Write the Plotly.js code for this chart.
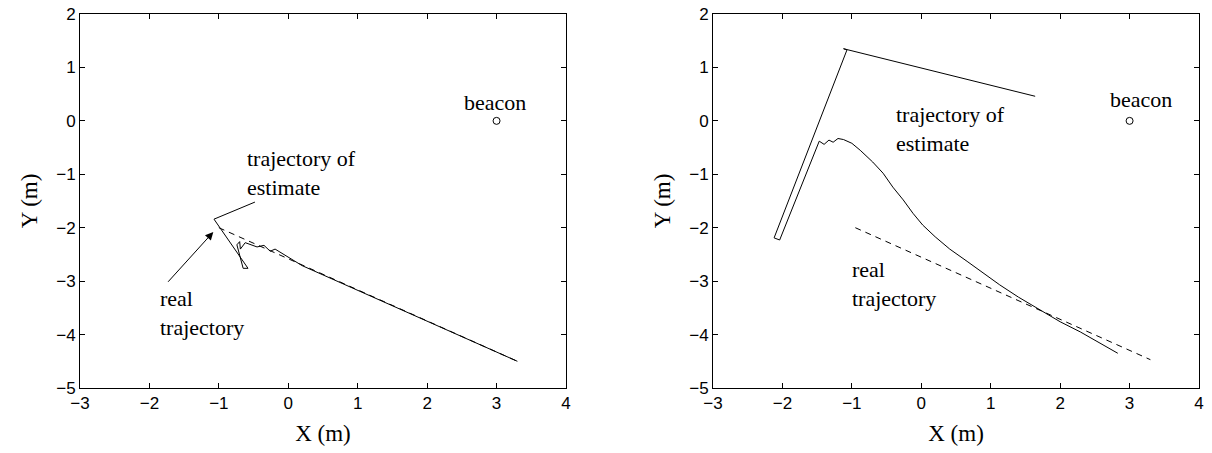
<!DOCTYPE html>
<html lang="en">
<head>
    <meta charset="UTF-8"/>
    <title>Beacon trajectories</title>
    <script src="https://cdn.plot.ly/plotly-3.0.1.min.js"></script>
    <style>
    body { margin: 0; background: white; }
    #chart { width: 1212px; height: 453px; }
    </style>
</head>
<body>
    <div id="chart"></div>
    <script>
        // beacon position (both panels)
        var beaconX = [3];
        var beaconY = [0];

        // left panel
        var realLeftX = [-1.0, 3.3];
        var realLeftY = [-2.0, -4.5];
        var estLeftX = [-0.48, -1.07, -0.58, -0.65, -0.74, -0.70, -0.69, -0.62, -0.45, -0.35, -0.26, -0.19, 0.2, 1.32, 2.3, 3.3];
        var estLeftY = [-1.52, -1.84, -2.76, -2.76, -2.32, -2.26, -2.40, -2.28, -2.36, -2.33, -2.44, -2.40, -2.71, -3.36, -3.93, -4.5];

        // right panel
        var realRightX = [-0.95, 3.3];
        var realRightY = [-2.0, -4.47];
        var estRightX = [1.64, -1.12, -1.07, -2.12, -2.04, -1.47, -1.40, -1.33, -1.27, -1.20, -1.12, -1.0, -0.88, -0.70, -0.55, -0.41, -0.26, -0.12, 0.02, 0.2, 0.41, 0.66, 0.9, 1.13, 1.4, 1.71, 2.0, 2.29, 2.55, 2.83];
        var estRightY = [0.46, 1.35, 1.33, -2.19, -2.23, -0.38, -0.44, -0.36, -0.40, -0.33, -0.35, -0.42, -0.55, -0.77, -0.98, -1.24, -1.48, -1.73, -1.95, -2.17, -2.40, -2.63, -2.85, -3.07, -3.3, -3.54, -3.76, -3.95, -4.15, -4.35];

        var serif = 'Liberation Serif, Times New Roman, serif';
        var black = '#000000';

        function lineTrace(x, y, ax, dash) {
            return {
                x: x, y: y, xaxis: ax[0], yaxis: ax[1],
                type: 'scatter', mode: 'lines',
                line: { color: black, width: 1, dash: dash },
                hoverinfo: 'none'
            };
        }

        function beaconTrace(ax) {
            return {
                x: beaconX, y: beaconY, xaxis: ax[0], yaxis: ax[1],
                type: 'scatter', mode: 'markers',
                marker: { symbol: 'circle-open', size: 7, color: black, line: { width: 1 } },
                hoverinfo: 'none'
            };
        }

        var L = ['x', 'y'];
        var R = ['x2', 'y2'];

        var data = [
            lineTrace(realLeftX, realLeftY, L, '6px,5px'),
            lineTrace(estLeftX, estLeftY, L, 'solid'),
            beaconTrace(L),
            lineTrace(realRightX, realRightY, R, '6px,5px'),
            lineTrace(estRightX, estRightY, R, 'solid'),
            beaconTrace(R)
        ];

        function xAxis(domain, anchor) {
            return {
                domain: domain, anchor: anchor, range: [-3, 4], dtick: 1,
                ticks: 'inside', ticklen: 5, tickcolor: black,
                showline: true, linecolor: black, linewidth: 1, mirror: 'ticks',
                showgrid: false, zeroline: false,
                tickfont: { family: 'Liberation Sans, Arial, sans-serif', size: 17, color: black },
                title: { text: 'X (m)', font: { family: serif, size: 23, color: black }, standoff: 12 }
            };
        }

        function yAxis(anchor) {
            return {
                anchor: anchor, range: [-5, 2], dtick: 1,
                ticks: 'inside', ticklen: 5, tickcolor: black,
                showline: true, linecolor: black, linewidth: 1, mirror: 'ticks',
                showgrid: false, zeroline: false,
                tickfont: { family: 'Liberation Sans, Arial, sans-serif', size: 17, color: black },
                title: { text: 'Y (m)', font: { family: serif, size: 23, color: black }, standoff: 12 }
            };
        }

        function label(text, x, y, xref, yref, anchor) {
            return {
                text: text, x: x, y: y, xref: xref, yref: yref,
                xanchor: anchor, yanchor: 'middle', align: 'left', showarrow: false,
                font: { family: serif, size: 22, color: black }
            };
        }

        var layout = {
            width: 1212, height: 453,
            margin: { l: 80, r: 13, t: 14, b: 65 },
            paper_bgcolor: 'white', plot_bgcolor: 'white',
            showlegend: false,
            xaxis: xAxis([0, 0.4343], 'y'),
            yaxis: yAxis('x'),
            xaxis2: xAxis([0.5657, 1], 'y2'),
            yaxis2: yAxis('x2'),
            annotations: [
                label('beacon', 2.98, 0.34, 'x', 'y', 'center'),
                label('trajectory of<br>estimate', -0.62, -0.98, 'x', 'y', 'left'),
                label('real<br>trajectory', -1.87, -3.6, 'x', 'y', 'left'),
                {
                    x: -1.08, y: -2.08, ax: -1.75, ay: -3.04,
                    xref: 'x', yref: 'y', axref: 'x', ayref: 'y',
                    showarrow: true, arrowhead: 2, arrowsize: 1.6, arrowwidth: 1, arrowcolor: black, text: ''
                },
                label('beacon', 3.16, 0.4, 'x2', 'y2', 'center'),
                label('trajectory of<br>estimate', -0.39, -0.16, 'x2', 'y2', 'left'),
                label('real<br>trajectory', -1.02, -3.05, 'x2', 'y2', 'left')
            ]
        };

        Plotly.newPlot('chart', data, layout, { staticPlot: true });
    </script>
</body>
</html>
